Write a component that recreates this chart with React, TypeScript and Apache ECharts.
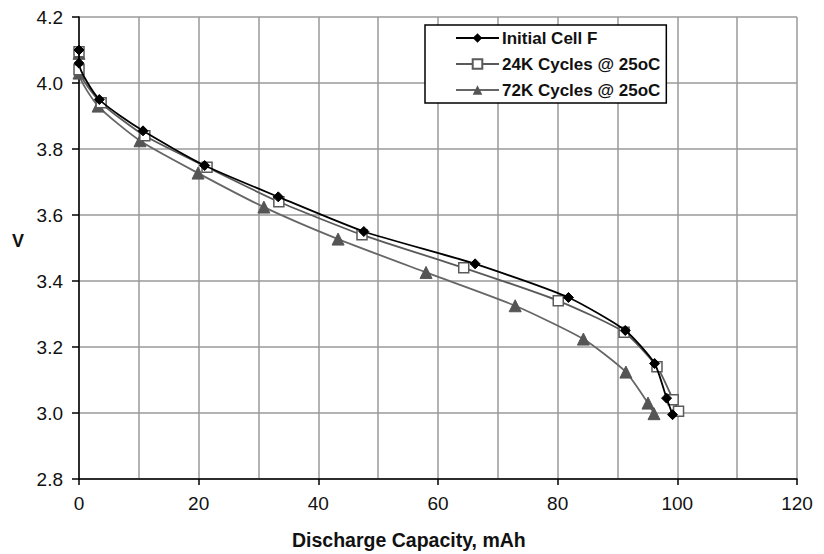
import React, { useEffect, useRef } from "react";
import * as echarts from "echarts";

// Discharge curves: [capacity mAh, voltage V]
const initialCellF: [number, number][] = [
  [0, 4.1], [0, 4.06], [3.4, 3.95], [10.7, 3.855], [21, 3.75], [33.3, 3.655],
  [47.6, 3.55], [66.2, 3.452], [81.8, 3.35], [91.3, 3.25], [96.2, 3.15],
  [98.2, 3.045], [99.2, 2.995],
];
const cycles24K: [number, number][] = [
  [0, 4.095], [0, 4.04], [3.7, 3.94], [11, 3.84], [21.4, 3.745], [33.4, 3.64],
  [47.3, 3.54], [64.3, 3.44], [80.1, 3.34], [91.1, 3.245], [96.6, 3.14],
  [99.3, 3.04], [100.2, 3.005],
];
const cycles72K: [number, number][] = [
  [0, 4.09], [0, 4.03], [3.2, 3.93], [10.2, 3.825], [19.9, 3.727], [30.9, 3.624],
  [43.3, 3.527], [58, 3.426], [72.9, 3.325], [84.3, 3.224], [91.4, 3.124],
  [95.1, 3.03], [96.1, 2.998],
];

const seriesNames = ["Initial Cell F", "24K Cycles @ 25oC", "72K Cycles @ 25oC"];
const xTitle = "Discharge Capacity, mAh";
const yTitle = "V";

const FONT = "Liberation Sans, Arial, sans-serif";

export default function App() {
  const ref = useRef<HTMLDivElement>(null);

  useEffect(() => {
    if (!ref.current) return;
    const chart = echarts.init(ref.current, null, { renderer: "svg" });
    const gridColor = "#9a9a9a";
    chart.setOption({
      animation: false,
      backgroundColor: "#ffffff",
      textStyle: { fontFamily: FONT },
      grid: { left: 79, top: 17, width: 718, height: 462, containLabel: false },
      xAxis: {
        type: "value",
        min: 0,
        max: 120,
        interval: 20,
        axisLine: { show: true, lineStyle: { color: "#000", width: 1.5 } },
        axisTick: { show: true, length: 6, lineStyle: { color: "#000", width: 1.5 } },
        axisLabel: { color: "#111", fontSize: 19, fontFamily: FONT, margin: 15 },
        splitLine: { show: true, lineStyle: { color: gridColor, width: 1.5 } },
        minorTick: { show: true, splitNumber: 2, length: 0 },
        minorSplitLine: { show: true, lineStyle: { color: gridColor, width: 1.5 } },
      },
      yAxis: {
        type: "value",
        min: 2.8,
        max: 4.2,
        interval: 0.2,
        axisLine: { show: true, onZero: false, lineStyle: { color: "#000", width: 1.5 } },
        axisTick: { show: true, length: 7, lineStyle: { color: "#000", width: 1.5 } },
        axisLabel: {
          color: "#111",
          fontSize: 19,
          fontFamily: FONT,
          margin: 16,
          formatter: (v: number) => v.toFixed(1),
        },
        splitLine: { show: true, lineStyle: { color: gridColor, width: 1.5 } },
      },
      legend: {
        orient: "vertical",
        left: 425,
        top: 25,
        padding: [4, 6, 4, 30],
        itemGap: 8,
        itemWidth: 43,
        itemHeight: 12,
        backgroundColor: "#fff",
        borderColor: "#000",
        borderWidth: 1.5,
        textStyle: {
          fontFamily: FONT,
          fontSize: 17,
          lineHeight: 18,
          fontWeight: "bold",
          color: "#111",
          padding: [0, 0, 0, -2],
        },
        data: seriesNames,
      },
      graphic: [
        {
          type: "text",
          left: 292,
          top: 530,
          style: { text: xTitle, font: `bold 19.5px ${FONT}`, fill: "#111" },
        },
        {
          type: "text",
          left: 12,
          top: 232,
          style: { text: yTitle, font: `bold 18px ${FONT}`, fill: "#111" },
        },
      ],
      series: [
        {
          name: seriesNames[0],
          type: "line",
          data: initialCellF,
          symbol: "diamond",
          symbolSize: 10,
          smooth: 0.2,
          z: 4,
          lineStyle: { color: "#000", width: 1.8 },
          itemStyle: { color: "#000", borderColor: "#000" },
        },
        {
          name: seriesNames[1],
          type: "line",
          data: cycles24K,
          symbol: "rect",
          symbolSize: 10,
          smooth: 0.2,
          z: 3,
          lineStyle: { color: "#5a5a5a", width: 1.8 },
          itemStyle: { color: "#fff", borderColor: "#5a5a5a", borderWidth: 1.5 },
        },
        {
          name: seriesNames[2],
          type: "line",
          data: cycles72K,
          symbol: "triangle",
          symbolSize: 12,
          smooth: 0.2,
          z: 2,
          lineStyle: { color: "#666", width: 1.8 },
          itemStyle: { color: "#555", borderColor: "#555" },
        },
      ],
    });
    return () => chart.dispose();
  }, []);

  return (
    <div
      ref={ref}
      style={{ position: "fixed", left: 0, top: 0, width: 824, height: 554, background: "#fff" }}
    />
  );
}
